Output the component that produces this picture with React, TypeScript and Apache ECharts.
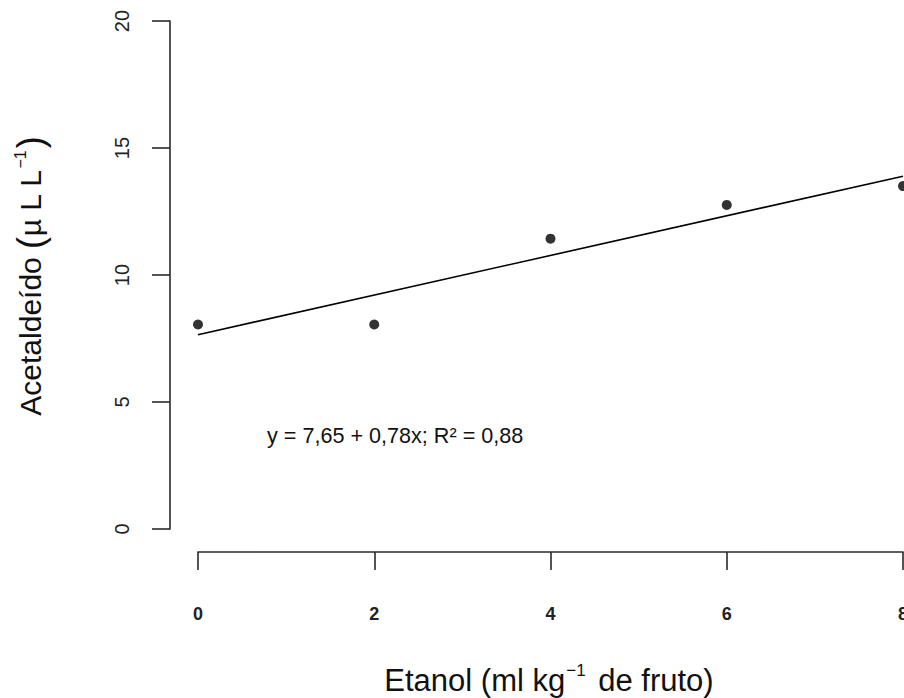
import React, { useEffect, useRef } from "react";
import * as echarts from "echarts";

const etanolDoses = [0, 2, 4, 6, 8];
const acetaldeido = [8.05, 8.05, 11.43, 12.76, 13.5];
const fitIntercept = 7.65;
const fitSlope = 0.78;
const xTicks = [0, 2, 4, 6, 8];
const yTicks = [0, 5, 10, 15, 20];
const equationText = "y = 7,65 + 0,78x; R² = 0,88";

export default function App() {
  const ref = useRef<HTMLDivElement>(null);
  useEffect(() => {
    if (!ref.current) return;
    const chart = echarts.init(ref.current, null, { renderer: "svg" });
    const xMin = xTicks[0];
    const xMax = xTicks[xTicks.length - 1];
    const fitLine = [
      [xMin, fitIntercept + fitSlope * xMin],
      [xMax, fitIntercept + fitSlope * xMax],
    ];
    const axisFont = "Liberation Sans, Arial, sans-serif";
    const narrowFont = "Liberation Sans Narrow, Arial Narrow, Liberation Sans, sans-serif";
    chart.setOption({
      animation: false,
      backgroundColor: "#ffffff",
      grid: {
        left: 198,
        right: 1,
        top: 21,
        bottom: 169,
        containLabel: false,
        outerBoundsMode: "none",
      },
      xAxis: {
        type: "value",
        min: xMin,
        max: xMax,
        interval: 2,
        offset: 23,
        axisLine: { show: true, onZero: false, lineStyle: { color: "#2a2a2a", width: 1.6 } },
        axisTick: { show: true, length: 18, inside: false, lineStyle: { color: "#2a2a2a", width: 1.6 } },
        axisLabel: {
          margin: 53,
          fontSize: 18,
          fontWeight: "bold",
          color: "#222",
          fontFamily: narrowFont,
          showMaxLabel: true,
          showMinLabel: true,
        },
        splitLine: { show: false },
      },
      yAxis: {
        type: "value",
        min: yTicks[0],
        max: yTicks[yTicks.length - 1],
        interval: 5,
        offset: 28,
        axisLine: { show: true, onZero: false, lineStyle: { color: "#2a2a2a", width: 1.6 } },
        axisTick: { show: true, length: 18, inside: false, lineStyle: { color: "#2a2a2a", width: 1.6 } },
        axisLabel: {
          margin: 38,
          rotate: 90,
          fontSize: 20,
          color: "#222",
          fontFamily: axisFont,
          showMaxLabel: true,
          showMinLabel: true,
        },
        splitLine: { show: false },
      },
      series: [
        {
          type: "line",
          data: fitLine,
          showSymbol: false,
          symbol: "none",
          lineStyle: { color: "#000", width: 1.6 },
          clip: false,
          silent: true,
        },
        {
          type: "scatter",
          data: etanolDoses.map((x, i) => [x, acetaldeido[i]]),
          symbol: "circle",
          symbolSize: 10,
          itemStyle: { color: "#000" },
          clip: false,
        },
      ],
      graphic: [
        {
          type: "text",
          x: 267,
          y: 435,
          style: {
            text: equationText,
            fontSize: 21.6,
            fontFamily: axisFont,
            fill: "#111",
            align: "left",
            verticalAlign: "middle",
          },
        },
        {
          type: "text",
          x: 549,
          y: 680,
          style: {
            text: "{n|Etanol (ml kg}{s|−1}{n| de fruto)}",
            align: "center",
            verticalAlign: "middle",
            rich: {
              n: { fontSize: 31, fontFamily: narrowFont, fill: "#111" },
              s: { fontSize: 17, fontFamily: narrowFont, fill: "#111", padding: [0, 4, 20, 1] },
            },
          },
        },
        {
          type: "text",
          x: 30,
          y: 276,
          rotation: Math.PI / 2,
          style: {
            text: "{n|Acetaldeído }{p|(}{n|µ L L}{s|−1}{p|)}",
            align: "center",
            verticalAlign: "middle",
            rich: {
              n: { fontSize: 30, fontFamily: axisFont, fill: "#111" },
              p: { fontSize: 36, fontFamily: axisFont, fill: "#111" },
              s: { fontSize: 16, fontFamily: axisFont, fill: "#111", padding: [0, 2, 19, 1] },
            },
          },
        },
      ],
    });
    return () => chart.dispose();
  }, []);
  return (
    <div
      ref={ref}
      style={{ position: "fixed", left: 0, top: 0, width: 904, height: 698 }}
    />
  );
}
